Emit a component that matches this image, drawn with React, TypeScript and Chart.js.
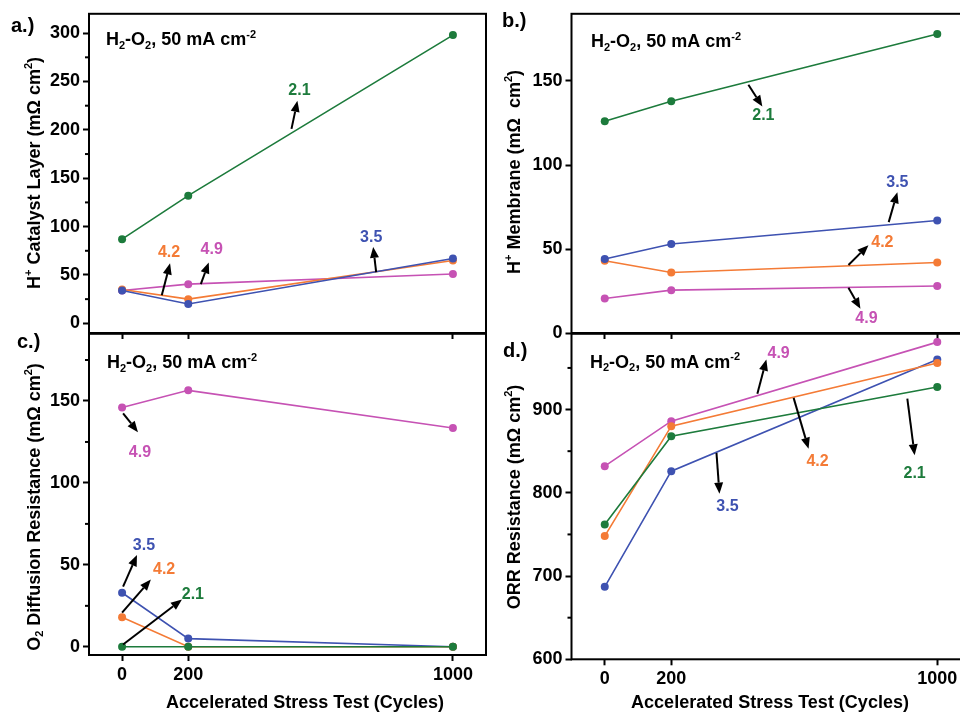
import React, { useEffect, useRef } from 'react';
import { Chart, registerables } from 'chart.js';
Chart.register(...registerables);

const FONT = "'Liberation Sans', Arial, Helvetica, sans-serif";
const GREEN = '#1d7b3c';
const BLUE = '#3e52b1';
const ORANGE = '#f47b36';
const PINK = '#c652b4';

// x values (cycles) and x tick labels
const cycles = [0, 200, 1000];
const cycleTicks = [0, 200, 1000];

// a.) H+ catalyst layer resistance (mOhm cm2)
const catalyst21 = [87, 132, 298];
const catalyst35 = [34, 20, 67];
const catalyst42 = [35, 25, 65];
const catalyst49 = [34, 40.5, 51];
const catalystTicks = [0, 50, 100, 150, 200, 250, 300];
const catalystMinor = [25, 75, 125, 175, 225, 275];

// b.) H+ membrane resistance
const membrane21 = [126, 138, 178];
const membrane35 = [44, 53, 67];
const membrane42 = [43, 36, 42];
const membrane49 = [20.5, 25.5, 28];
const membraneTicks = [0, 50, 100, 150];
const membraneMinor: number[] = [];

// c.) O2 diffusion resistance
const diffusion21 = [0, 0, 0];
const diffusion35 = [33, 5, 0];
const diffusion42 = [18, 0, 0];
const diffusion49 = [146, 156.5, 133.5];
const diffusionTicks = [0, 50, 100, 150];
const diffusionMinor = [25, 75, 125, 175];

// d.) ORR resistance
const orr21 = [762, 868, 927];
const orr35 = [687, 826, 960];
const orr42 = [748, 880, 956];
const orr49 = [832, 886, 981];
const orrTicks = [600, 700, 800, 900];
const orrMinor = [650, 750, 850, 950];

type Seg = { t: string; s?: 'sup' | 'sub' };
type Note = { t: string; c: string; x: number; y: number };
type Arrow = { x1: number; y1: number; x2: number; y2: number };
type Series = { label: string; color: string; values: number[] };

interface PanelSpec {
  cl: number; ct: number; cw: number; ch: number;
  pad: { left: number; right: number; top: number; bottom: number };
  yW: number; xH: number;
  xMin: number; xMax: number; yMin: number; yMax: number;
  yMajor: number[]; yMinor: number[];
  xLabels: boolean;
  series: Series[];
  yTitle: Seg[]; yTitleX: number; yTitleY: number;
  xTitle?: { cx: number; y: number };
  label: { t: string; x: number; y: number };
  cond: { x: number; y: number };
  notes: Note[];
  arrows: Arrow[];
}

const condSegs: Seg[] = [
  { t: 'H' }, { t: '2', s: 'sub' }, { t: '-O' }, { t: '2', s: 'sub' }, { t: ', 50 mA cm' }, { t: '-2', s: 'sup' },
];

function segFont(size: number, s?: string) {
  const sz = s ? Math.round(size * 0.62) : size;
  return `bold ${sz}px ${FONT}`;
}
function drawRich(ctx: CanvasRenderingContext2D, segs: Seg[], x: number, y: number, size: number, align: 'left' | 'center') {
  let w = 0;
  for (const g of segs) { ctx.font = segFont(size, g.s); w += ctx.measureText(g.t).width; }
  let cx = align === 'center' ? x - w / 2 : x;
  ctx.textAlign = 'left';
  ctx.textBaseline = 'alphabetic';
  for (const g of segs) {
    ctx.font = segFont(size, g.s);
    const dy = g.s === 'sup' ? -size * 0.4 : g.s === 'sub' ? size * 0.22 : 0;
    ctx.fillText(g.t, cx, y + dy);
    cx += ctx.measureText(g.t).width;
  }
}
function drawArrow(ctx: CanvasRenderingContext2D, x1: number, y1: number, x2: number, y2: number) {
  const a = Math.atan2(y2 - y1, x2 - x1);
  const hl = 11, hw = 4.5;
  const bx = x2 - hl * Math.cos(a), by = y2 - hl * Math.sin(a);
  ctx.strokeStyle = '#000';
  ctx.fillStyle = '#000';
  ctx.lineWidth = 2;
  ctx.beginPath(); ctx.moveTo(x1, y1); ctx.lineTo(bx, by); ctx.stroke();
  ctx.beginPath();
  ctx.moveTo(x2, y2);
  ctx.lineTo(bx + hw * Math.sin(a), by - hw * Math.cos(a));
  ctx.lineTo(bx - hw * Math.sin(a), by + hw * Math.cos(a));
  ctx.closePath(); ctx.fill();
}

const panels: PanelSpec[] = [
  {
    cl: 0, ct: 0, cw: 500, ch: 350,
    pad: { left: 0, right: 14, top: 13, bottom: 7 }, yW: 89, xH: 10,
    xMin: -100, xMax: 1100, yMin: -10, yMax: 320,
    yMajor: catalystTicks, yMinor: catalystMinor, xLabels: false,
    series: [
      { label: '2.1', color: GREEN, values: catalyst21 },
      { label: '3.5', color: BLUE, values: catalyst35 },
      { label: '4.2', color: ORANGE, values: catalyst42 },
      { label: '4.9', color: PINK, values: catalyst49 },
    ],
    yTitle: [{ t: 'H' }, { t: '+', s: 'sup' }, { t: ' Catalyst Layer (m\u03A9 cm' }, { t: '2', s: 'sup' }, { t: ')' }],
    yTitleX: 39.5, yTitleY: 173,
    label: { t: 'a.)', x: 11, y: 32 },
    cond: { x: 106, y: 45 },
    notes: [
      { t: '2.1', c: GREEN, x: 536, y: 241 },
      { t: '4.2', c: ORANGE, x: 142, y: 73.5 },
      { t: '4.9', c: PINK, x: 271, y: 76.5 },
      { t: '3.5', c: BLUE, x: 753, y: 89 },
    ],
    arrows: [
      { x1: 512, y1: 201, x2: 530, y2: 230 },
      { x1: 120, y1: 29, x2: 145, y2: 62 },
      { x1: 238, y1: 40.5, x2: 262, y2: 63 },
      { x1: 768, y1: 53, x2: 759, y2: 79 },
    ],
  },
  {
    cl: 480, ct: 0, cw: 520, ch: 350,
    pad: { left: 0, right: 29.5, top: 12, bottom: 7 }, yW: 91.5, xH: 10,
    xMin: -100, xMax: 1100, yMin: 0, yMax: 190,
    yMajor: membraneTicks, yMinor: membraneMinor, xLabels: false,
    series: [
      { label: '2.1', color: GREEN, values: membrane21 },
      { label: '3.5', color: BLUE, values: membrane35 },
      { label: '4.2', color: ORANGE, values: membrane42 },
      { label: '4.9', color: PINK, values: membrane49 },
    ],
    yTitle: [{ t: 'H' }, { t: '+', s: 'sup' }, { t: ' Membrane (m\u03A9  cm' }, { t: '2', s: 'sup' }, { t: ')' }],
    yTitleX: 519.5, yTitleY: 172,
    label: { t: 'b.)', x: 502, y: 27 },
    cond: { x: 591, y: 47 },
    notes: [
      { t: '2.1', c: GREEN, x: 477, y: 129.4 },
      { t: '3.5', c: BLUE, x: 880, y: 89.7 },
      { t: '4.2', c: ORANGE, x: 835, y: 54 },
      { t: '4.9', c: PINK, x: 787, y: 8.5 },
    ],
    arrows: [
      { x1: 432, y1: 147.8, x2: 474, y2: 134.8 },
      { x1: 854, y1: 66, x2: 880, y2: 83.8 },
      { x1: 733, y1: 40.5, x2: 793, y2: 52.3 },
      { x1: 733, y1: 26.9, x2: 769, y2: 14.4 },
    ],
  },
  {
    cl: 0, ct: 320, cw: 500, ch: 393,
    pad: { left: 0, right: 14, top: 13, bottom: 18 }, yW: 89, xH: 40,
    xMin: -100, xMax: 1100, yMin: -5, yMax: 191,
    yMajor: diffusionTicks, yMinor: diffusionMinor, xLabels: true,
    series: [
      { label: '2.1', color: GREEN, values: diffusion21 },
      { label: '4.2', color: ORANGE, values: diffusion42 },
      { label: '3.5', color: BLUE, values: diffusion35 },
      { label: '4.9', color: PINK, values: diffusion49 },
    ],
    yTitle: [{ t: 'O' }, { t: '2', s: 'sub' }, { t: ' Diffusion Resistance (m\u03A9 cm' }, { t: '2', s: 'sup' }, { t: ')' }],
    yTitleX: 39.5, yTitleY: 507,
    xTitle: { cx: 305, y: 707.5 },
    label: { t: 'c.)', x: 17, y: 348 },
    cond: { x: 107, y: 368 },
    notes: [
      { t: '4.9', c: PINK, x: 54, y: 118.8 },
      { t: '3.5', c: BLUE, x: 66, y: 62 },
      { t: '4.2', c: ORANGE, x: 127, y: 47 },
      { t: '2.1', c: GREEN, x: 214, y: 31.8 },
    ],
    arrows: [
      { x1: 3, y1: 142.5, x2: 48, y2: 131 },
      { x1: 3, y1: 36.7, x2: 45, y2: 56 },
      { x1: 0, y1: 20.9, x2: 87, y2: 41 },
      { x1: 3, y1: 1.4, x2: 181, y2: 28.8 },
    ],
  },
  {
    cl: 480, ct: 320, cw: 520, ch: 393,
    pad: { left: 0, right: 29.5, top: 13, bottom: 13.7 }, yW: 91.5, xH: 40,
    xMin: -100, xMax: 1100, yMin: 600, yMax: 991,
    yMajor: orrTicks, yMinor: orrMinor, xLabels: true,
    series: [
      { label: '2.1', color: GREEN, values: orr21 },
      { label: '4.2', color: ORANGE, values: orr42 },
      { label: '3.5', color: BLUE, values: orr35 },
      { label: '4.9', color: PINK, values: orr49 },
    ],
    yTitle: [{ t: 'ORR Resistance (m\u03A9 cm' }, { t: '2', s: 'sup' }, { t: ')' }],
    yTitleX: 519.5, yTitleY: 497,
    xTitle: { cx: 770, y: 708 },
    label: { t: 'd.)', x: 503, y: 357 },
    cond: { x: 590, y: 367.5 },
    notes: [
      { t: '4.9', c: PINK, x: 523, y: 967 },
      { t: '4.2', c: ORANGE, x: 640, y: 838 },
      { t: '2.1', c: GREEN, x: 932, y: 823 },
      { t: '3.5', c: BLUE, x: 369, y: 783 },
    ],
    arrows: [
      { x1: 459, y1: 919, x2: 486, y2: 960 },
      { x1: 568, y1: 914, x2: 613, y2: 853 },
      { x1: 910, y1: 913, x2: 932, y2: 845 },
      { x1: 336, y1: 848, x2: 345, y2: 799 },
    ],
  },
];

function Panel({ spec }: { spec: PanelSpec }) {
  const ref = useRef<HTMLCanvasElement>(null);
  useEffect(() => {
    const canvas = ref.current;
    if (!canvas) return;
    const tickFont = { family: FONT, size: 18, weight: 'bold' as const };
    const decor = {
      id: 'decor',
      afterDraw(chart: any) {
        const ctx: CanvasRenderingContext2D = chart.ctx;
        const { left, right, top, bottom } = chart.chartArea;
        const xs = chart.scales.x, ys = chart.scales.y;
        const ox = spec.cl, oy = spec.ct;
        ctx.save();
        // frame
        ctx.strokeStyle = '#000';
        ctx.lineWidth = 2;
        ctx.strokeRect(left, top, right - left, bottom - top);
        // minor ticks
        for (const v of spec.yMinor) {
          const py = ys.getPixelForValue(v);
          ctx.beginPath(); ctx.moveTo(left - 4, py); ctx.lineTo(left, py); ctx.stroke();
        }
        ctx.fillStyle = '#000';
        // condition text
        drawRich(ctx, condSegs, spec.cond.x - ox, spec.cond.y - oy, 18, 'left');
        // panel label
        ctx.font = `bold 20px ${FONT}`;
        ctx.textAlign = 'left';
        ctx.textBaseline = 'alphabetic';
        ctx.fillText(spec.label.t, spec.label.x - ox, spec.label.y - oy);
        // y title
        ctx.save();
        ctx.translate(spec.yTitleX - ox, spec.yTitleY - oy);
        ctx.rotate(-Math.PI / 2);
        drawRich(ctx, spec.yTitle, 0, 0, 18, 'center');
        ctx.restore();
        // x title
        if (spec.xTitle) {
          drawRich(ctx, [{ t: 'Accelerated Stress Test (Cycles)' }], spec.xTitle.cx - ox, spec.xTitle.y - oy, 18, 'center');
        }
        // arrows
        for (const a of spec.arrows) {
          drawArrow(ctx, xs.getPixelForValue(a.x1), ys.getPixelForValue(a.y1), xs.getPixelForValue(a.x2), ys.getPixelForValue(a.y2));
        }
        // notes
        ctx.font = `bold 16px ${FONT}`;
        ctx.textAlign = 'center';
        ctx.textBaseline = 'middle';
        for (const n of spec.notes) {
          ctx.fillStyle = n.c;
          ctx.fillText(n.t, xs.getPixelForValue(n.x), ys.getPixelForValue(n.y));
        }
        ctx.restore();
      },
    };
    const chart = new Chart(canvas, {
      type: 'line',
      data: {
        datasets: spec.series.map((s) => ({
          label: s.label,
          data: cycles.map((c, i) => ({ x: c, y: s.values[i] })),
          borderColor: s.color,
          backgroundColor: s.color,
          pointBackgroundColor: s.color,
          pointBorderWidth: 0,
          pointRadius: 4,
          pointHoverRadius: 4,
          borderWidth: 1.6,
          tension: 0,
          fill: false,
        })),
      },
      options: {
        responsive: false,
        animation: false,
        events: [],
        layout: { padding: spec.pad },
        plugins: { legend: { display: false }, tooltip: { enabled: false } },
        scales: {
          x: {
            type: 'linear',
            min: spec.xMin,
            max: spec.xMax,
            afterBuildTicks: (scale: any) => { scale.ticks = cycleTicks.map((v) => ({ value: v })); },
            afterFit: (scale: any) => { scale.height = spec.xH; },
            grid: { display: true, drawOnChartArea: false, drawTicks: true, tickLength: 6, tickWidth: 2, tickColor: '#000' },
            border: { display: false },
            ticks: {
              autoSkip: false,
              maxRotation: 0,
              padding: 3,
              color: '#000',
              font: tickFont,
              callback: (v: any) => (spec.xLabels ? String(v) : ''),
            },
          },
          y: {
            type: 'linear',
            min: spec.yMin,
            max: spec.yMax,
            afterBuildTicks: (scale: any) => { scale.ticks = spec.yMajor.map((v) => ({ value: v })); },
            afterFit: (scale: any) => { scale.width = spec.yW; },
            grid: { display: true, drawOnChartArea: false, drawTicks: true, tickLength: 6, tickWidth: 2, tickColor: '#000' },
            border: { display: false },
            ticks: { autoSkip: false, padding: 3, color: '#000', font: tickFont, callback: (v: any) => String(v) },
          },
        },
      },
      plugins: [decor],
    } as any);
    return () => chart.destroy();
  }, [spec]);
  return (
    <canvas
      ref={ref}
      width={spec.cw}
      height={spec.ch}
      style={{ position: 'absolute', left: spec.cl, top: spec.ct, width: spec.cw, height: spec.ch }}
    />
  );
}

export default function App() {
  return (
    <div style={{ position: 'fixed', left: 0, top: 0, width: 960, height: 713, overflow: 'hidden', background: '#fff' }}>
      {panels.map((p, i) => (
        <Panel key={i} spec={p} />
      ))}
    </div>
  );
}
